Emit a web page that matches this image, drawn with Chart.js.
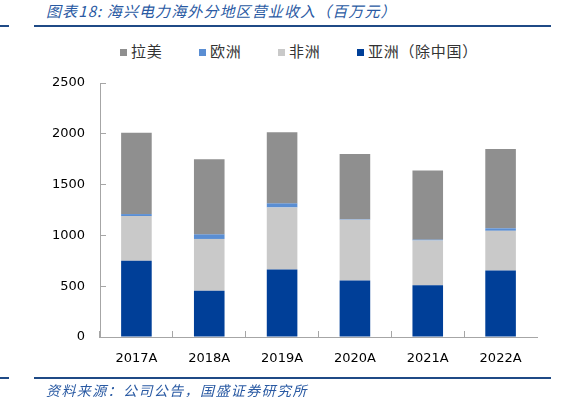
<!DOCTYPE html>
<html>
<head>
<meta charset="utf-8">
<script src="https://cdn.jsdelivr.net/npm/chart.js@4"></script>
<style>
  html, body { margin: 0; padding: 0; background: #fff; }
  #wrap { position: relative; width: 571px; height: 397px; overflow: hidden; }
  #c { position: absolute; left: 0; top: 0; }
  .title { position: absolute; left: 46px; top: 0px; font: italic 15px "Noto Sans CJK SC", sans-serif; color: #2a5aa3; letter-spacing: 1.1px; white-space: nowrap; }
  .foot { position: absolute; left: 46px; top: 380px; font: italic 14px "Noto Sans CJK SC", sans-serif; color: #2a5aa3; letter-spacing: 1.4px; white-space: nowrap; }
  .hl { position: absolute; height: 2px; background: #1f4a86; }
  #legend { position: absolute; left: 120px; top: 40px; height: 20px; white-space: nowrap; font: 15px "Noto Sans CJK SC", sans-serif; color: #333; letter-spacing: 0.7px; }
  .li { display: inline-block; width: 79px; vertical-align: top; }
  .li .sq { display: inline-block; width: 7px; height: 7px; margin-right: 4px; vertical-align: 1px; }
</style>
</head>
<body>
<div id="wrap">
  <div class="title">图表18: 海兴电力海外分地区营业收入（百万元）</div>
  <div class="hl" style="left:0;width:9px;top:25px;"></div>
  <div class="hl" style="left:34px;width:517px;top:25px;"></div>
  <div id="legend"></div>
  <canvas id="c" width="571" height="397"></canvas>
  <div class="hl" style="left:0;width:9px;top:377px;"></div>
  <div class="hl" style="left:34px;width:517px;top:377px;"></div>
  <div class="foot">资料来源：公司公告，国盛证券研究所</div>
</div>
<script>
const categories = ['2017A', '2018A', '2019A', '2020A', '2021A', '2022A'];
const asia   = [750, 455, 665, 555, 510, 655];
const africa = [440, 510, 610, 600, 440, 390];
const europe = [20, 45, 40, 5, 8, 25];
const latam  = [800, 740, 700, 640, 680, 780];
const seriesNames = { latam: '拉美', europe: '欧洲', africa: '非洲', asia: '亚洲（除中国）' };
const yTicks = [0, 500, 1000, 1500, 2000, 2500];

const colors = { latam: '#8f8f8f', europe: '#5a8ed3', africa: '#c9c9c9', asia: '#003f98' };

// HTML legend (order as in reference)
const legendOrder = ['latam', 'europe', 'africa', 'asia'];
const lg = document.getElementById('legend');
legendOrder.forEach(k => {
  const d = document.createElement('span');
  d.className = 'li';
  const sq = document.createElement('span');
  sq.className = 'sq';
  sq.style.background = colors[k];
  d.appendChild(sq);
  d.appendChild(document.createTextNode(seriesNames[k]));
  lg.appendChild(d);
});

const axisGray = '#a6a6a6';
const tickFont = { family: "'DejaVu Sans', sans-serif", size: 13 };

new Chart(document.getElementById('c'), {
  type: 'bar',
  data: {
    labels: categories,
    datasets: [
      { label: seriesNames.asia, data: asia, backgroundColor: colors.asia },
      { label: seriesNames.africa, data: africa, backgroundColor: colors.africa },
      { label: seriesNames.europe, data: europe, backgroundColor: colors.europe },
      { label: seriesNames.latam, data: latam, backgroundColor: colors.latam }
    ]
  },
  options: {
    responsive: false,
    animation: false,
    layout: { padding: { left: 0, right: 34, top: 83, bottom: 0 } },
    datasets: { bar: { categoryPercentage: 0.42, barPercentage: 1, borderWidth: 0 } },
    plugins: { legend: { display: false }, tooltip: { enabled: false }, title: { display: false } },
    scales: {
      x: {
        stacked: true,
        offset: true,
        border: { display: true, color: axisGray, width: 1 },
        grid: {
          offset: true,
          drawOnChartArea: false,
          drawTicks: true,
          tickLength: -6,
          color: c => c.type === 'tick' ? axisGray : 'rgba(0,0,0,0)'
        },
        ticks: { color: '#000', font: tickFont, padding: 20, maxRotation: 0 },
        afterFit: s => { s.height = 60; }
      },
      y: {
        stacked: true,
        min: 0,
        max: 2500,
        afterBuildTicks: s => { s.ticks = yTicks.map(v => ({ value: v })); },
        border: { display: true, color: axisGray, width: 1 },
        grid: { drawOnChartArea: false, drawTicks: true, tickLength: -6, color: axisGray },
        ticks: { color: '#000', font: tickFont, padding: 21, callback: v => String(v) },
        afterFit: s => { s.width = 100; }
      }
    }
  }
});
</script>
</body>
</html>
